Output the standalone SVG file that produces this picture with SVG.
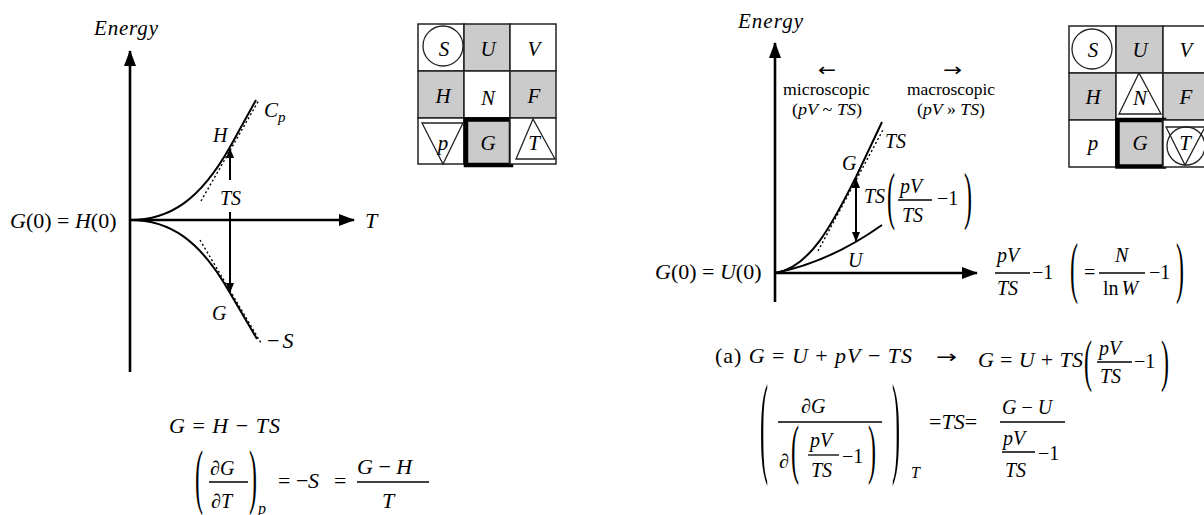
<svg xmlns="http://www.w3.org/2000/svg" width="1204" height="515" viewBox="0 0 1204 515">
<style>
text{font-family:"Liberation Serif","Times New Roman",serif;font-size:22px;fill:#000}
.i{font-style:italic}
.s20{font-size:20px}
.s16{font-size:16px}
.s15{font-size:15px}
.s21{font-size:21px}
.p24{font-size:24px}
.ar{font-family:"DejaVu Sans",sans-serif;font-size:18px}
.lab{font-size:16px}
.ax{stroke:#000;stroke-width:2.6;fill:none}
.cv{stroke:#000;stroke-width:2;fill:none}
.ds{stroke:#000;stroke-width:1.4;stroke-dasharray:2 2.5;fill:none}
.fr{stroke:#000;stroke-width:1.3}
.cell{stroke:#222;stroke-width:1.5;fill:#fff}
.gray{fill:#cbcbcb}
.thick{fill:none;stroke:#000;stroke-width:4.5}
.sym{stroke:#222;stroke-width:1.3;fill:none}
.gl{font-size:21px;font-style:italic;text-anchor:middle}
</style>
<defs>
<marker id="big" markerUnits="userSpaceOnUse" viewBox="0 0 16 12" refX="15" refY="6" markerWidth="16" markerHeight="12" orient="auto"><path d="M0,0 L16,6 L0,12 z"/></marker>
<marker id="sm" markerUnits="userSpaceOnUse" viewBox="0 0 10 8" refX="9" refY="4" markerWidth="10" markerHeight="8" orient="auto-start-reverse"><path d="M0,0 L10,4 L0,8 z"/></marker>
</defs>

<!-- connectors: axes, curves, arrows -->
<g id="connectors">
  <!-- left graph -->
  <path class="ax" d="M130,372 L130,51" marker-end="url(#big)"/>
  <path class="ax" d="M130,220 L354,220" marker-end="url(#big)"/>
  <path class="cv" d="M130,220 C170,220 200,200 230,147 L256,100"/>
  <path class="cv" d="M130,220 C170,220 200,240 230,293 L257,339"/>
  <path class="ds" d="M201,201 L259,100"/>
  <path class="ds" d="M200,240 L261,343"/>
  <path class="cv" d="M230,180 L230,149" marker-end="url(#sm)"/>
  <path class="cv" d="M230,212 L230,292" marker-end="url(#sm)"/>
  <!-- right graph -->
  <path class="ax" d="M775,302 L775,43" marker-end="url(#big)"/>
  <path class="ax" d="M775,273 L977,273" marker-end="url(#big)"/>
  <path class="cv" d="M775,273 C812,268 836,216 856,177 L882,122"/>
  <path class="cv" d="M775,273 Q830,262 882,225"/>
  <path class="ds" d="M818,251 L884,128"/>
  <path class="cv" d="M856,179 L856,241" marker-start="url(#sm)" marker-end="url(#sm)"/>
</g>

<!-- left graph labels -->
<g id="left-graph">
  <text class="i s21" x="94" y="35" textLength="64">Energy</text>
  <text x="10" y="228"><tspan class="i">G</tspan>(0) = <tspan class="i">H</tspan>(0)</text>
  <text class="i" x="365" y="228">T</text>
  <text class="i s20" x="213" y="142">H</text>
  <text class="i s21" x="264" y="117">C</text>
  <text class="i s15" x="278" y="122">p</text>
  <rect x="219" y="185" width="24" height="22" fill="#fff"/>
  <text class="i s20" x="220" y="205">TS</text>
  <text class="i s20" x="212" y="320">G</text>
  <text x="267" y="348">−<tspan class="i" dx="3">S</tspan></text>
</g>

<!-- left equations -->
<g id="left-equations">
  <text x="169" y="433" textLength="111"><tspan class="i">G</tspan> = <tspan class="i">H</tspan> − <tspan class="i">TS</tspan></text>
  <text class="p24" transform="translate(195,500) scale(1,3.0)">(</text>
  <text class="i s20" x="210" y="475">∂G</text>
  <line class="fr" x1="209" y1="482" x2="248" y2="482"/>
  <text class="i s20" x="211" y="508">∂T</text>
  <text class="p24" transform="translate(249,500) scale(1,3.0)">)</text>
  <text class="i s16" x="258" y="514">p</text>
  <text x="278" y="488">=</text>
  <text x="296" y="488">−</text>
  <text class="i" x="308" y="488">S</text>
  <text x="334" y="488">=</text>
  <text x="357" y="474"><tspan class="i">G</tspan> − <tspan class="i">H</tspan></text>
  <line class="fr" x1="357" y1="482" x2="429" y2="482"/>
  <text class="i" x="382" y="508">T</text>
</g>

<!-- left grid -->
<g id="lg-S"><rect class="cell" x="418" y="24" width="46" height="47"/><circle class="sym" cx="443" cy="46" r="20"/><text class="gl" x="444" y="56">S</text></g>
<g id="lg-U"><rect class="cell gray" x="464" y="24" width="46" height="47"/><text class="gl" x="488" y="56">U</text></g>
<g id="lg-V"><rect class="cell" x="510" y="24" width="46" height="47"/><text class="gl" x="534" y="56">V</text></g>
<g id="lg-H"><rect class="cell gray" x="418" y="71" width="46" height="47"/><text class="gl" x="443" y="103">H</text></g>
<g id="lg-N"><rect class="cell" x="464" y="71" width="46" height="47"/><text class="gl" x="488" y="105">N</text></g>
<g id="lg-F"><rect class="cell gray" x="510" y="71" width="46" height="47"/><text class="gl" x="534" y="103">F</text></g>
<g id="lg-p"><rect class="cell" x="418" y="118" width="46" height="46"/><polygon class="sym" points="422,123 463,123 443,164"/><text class="gl" x="443" y="150">p</text></g>
<g id="lg-G"><rect class="cell gray" x="464" y="118" width="46" height="46"/><rect class="thick" x="466" y="119.5" width="45" height="45.5"/><text class="gl" x="488" y="150">G</text></g>
<g id="lg-T"><rect class="cell" x="510" y="118" width="46" height="46"/><polygon class="sym" points="533,119 516,159 555,159"/><text class="gl" x="534" y="150">T</text></g>

<!-- right graph labels -->
<g id="right-graph">
  <text class="i s21" x="738" y="28" textLength="65">Energy</text>
  <text class="ar" x="818" y="76" textLength="18" lengthAdjust="spacingAndGlyphs">←</text>
  <text class="lab" x="783" y="95" textLength="87" lengthAdjust="spacingAndGlyphs">microscopic</text>
  <text class="lab" x="792" y="115" textLength="70" lengthAdjust="spacingAndGlyphs">(<tspan class="i">pV</tspan> ~ <tspan class="i">TS</tspan>)</text>
  <text class="ar" x="943" y="76" textLength="19" lengthAdjust="spacingAndGlyphs">→</text>
  <text class="lab" x="907" y="95" textLength="88" lengthAdjust="spacingAndGlyphs">macroscopic</text>
  <text class="lab" x="917" y="115" textLength="68" lengthAdjust="spacingAndGlyphs">(<tspan class="i">pV</tspan> » <tspan class="i">TS</tspan>)</text>
  <text class="i s20" x="885" y="148">TS</text>
  <text class="i s20" x="842" y="170">G</text>
  <text class="i s20" x="864" y="203">TS</text>
  <text class="p24" transform="translate(887,216.8) scale(1,2.63)">(</text>
  <text class="i s20" x="900" y="193">pV</text>
  <line class="fr" x1="898" y1="200" x2="932" y2="200"/>
  <text class="i s20" x="902" y="222">TS</text>
  <text class="s20" x="937" y="205">−1</text>
  <text class="p24" transform="translate(964,216.8) scale(1,2.63)">)</text>
  <text class="i s20" x="848" y="267">U</text>
  <text x="655" y="279"><tspan class="i">G</tspan>(0) = <tspan class="i">U</tspan>(0)</text>
  <text class="i s20" x="997" y="262">pV</text>
  <line class="fr" x1="995" y1="273" x2="1030" y2="273"/>
  <text class="i s20" x="997" y="295">TS</text>
  <text class="s20" x="1032" y="279">−1</text>
  <text class="p24" transform="translate(1070,290.2) scale(1,2.78)">(</text>
  <text class="s20" x="1084" y="279">=</text>
  <text class="i s20" x="1115" y="262">N</text>
  <line class="fr" x1="1099" y1="273" x2="1145" y2="273"/>
  <text class="s20" x="1103" y="295">ln<tspan class="i" dx="3">W</tspan></text>
  <text class="s20" x="1149" y="279">−1</text>
  <text class="p24" transform="translate(1176,290.2) scale(1,2.78)">)</text>
</g>

<!-- right equations -->
<g id="right-equations">
  <text x="715" y="363" textLength="197">(a) <tspan class="i">G</tspan> = <tspan class="i">U</tspan> + <tspan class="i">pV</tspan> − <tspan class="i">TS</tspan></text>
  <text class="ar" x="936" y="363" textLength="21" lengthAdjust="spacingAndGlyphs">→</text>
  <text x="978" y="367" textLength="105"><tspan class="i">G</tspan> = <tspan class="i">U</tspan> + <tspan class="i">TS</tspan></text>
  <text class="p24" transform="translate(1084,380) scale(1,2.34)">(</text>
  <text class="i s20" x="1099" y="355">pV</text>
  <line class="fr" x1="1097" y1="362" x2="1132" y2="362"/>
  <text class="i s20" x="1100" y="383">TS</text>
  <text class="s20" x="1134" y="368">−1</text>
  <text class="p24" transform="translate(1161,380) scale(1,2.34)">)</text>

  <text class="p24" transform="translate(760,462.3) scale(1,4.63)">(</text>
  <text class="i s20" x="801" y="413">∂G</text>
  <line class="fr" x1="778" y1="422" x2="882" y2="422"/>
  <text class="i s20" x="779" y="468">∂</text>
  <text class="p24" transform="translate(791,471.4) scale(1,2.73)">(</text>
  <text class="i s20" x="810" y="447">pV</text>
  <line class="fr" x1="808" y1="455" x2="839" y2="455"/>
  <text class="i s20" x="811" y="477">TS</text>
  <text class="s20" x="842" y="463">−1</text>
  <text class="p24" transform="translate(868,471.4) scale(1,2.73)">)</text>
  <text class="p24" transform="translate(892,462.3) scale(1,4.63)">)</text>
  <text class="i s16" x="911" y="478">T</text>
  <text x="929" y="429">=<tspan class="i">TS</tspan>=</text>
  <text class="s20" x="1002" y="414"><tspan class="i">G</tspan> − <tspan class="i">U</tspan></text>
  <line class="fr" x1="1000" y1="422" x2="1065" y2="422"/>
  <text class="i s20" x="1003" y="445">pV</text>
  <line class="fr" x1="1002" y1="452" x2="1035" y2="452"/>
  <text class="i s20" x="1005" y="477">TS</text>
  <text class="s20" x="1038" y="460">−1</text>
</g>

<!-- right grid -->
<g id="rg-S"><rect class="cell" x="1069" y="26" width="47" height="47"/><circle class="sym" cx="1092" cy="49" r="20"/><text class="gl" x="1093" y="57">S</text></g>
<g id="rg-U"><rect class="cell gray" x="1116" y="26" width="47" height="47"/><text class="gl" x="1140" y="57">U</text></g>
<g id="rg-V"><rect class="cell" x="1163" y="26" width="47" height="47"/><text class="gl" x="1186" y="57">V</text></g>
<g id="rg-H"><rect class="cell gray" x="1069" y="73" width="47" height="47"/><text class="gl" x="1093" y="104">H</text></g>
<g id="rg-N"><rect class="cell" x="1116" y="73" width="47" height="47"/><polygon class="sym" points="1139,73 1119,114 1161,114"/><text class="gl" x="1140" y="105">N</text></g>
<g id="rg-F"><rect class="cell gray" x="1163" y="73" width="47" height="47"/><text class="gl" x="1186" y="104">F</text></g>
<g id="rg-p"><rect class="cell" x="1069" y="120" width="47" height="47"/><text class="gl" x="1093" y="150">p</text></g>
<g id="rg-G"><rect class="cell gray" x="1116" y="120" width="47" height="47"/><rect class="thick" x="1117.5" y="120" width="46.5" height="46.5"/><text class="gl" x="1140" y="150">G</text></g>
<g id="rg-T"><rect class="cell" x="1163" y="120" width="47" height="47"/><circle class="sym" cx="1186" cy="146" r="19"/><polygon class="sym" points="1166,127 1205,127 1185,165"/><text class="gl" x="1185" y="150">T</text></g>
</svg>
